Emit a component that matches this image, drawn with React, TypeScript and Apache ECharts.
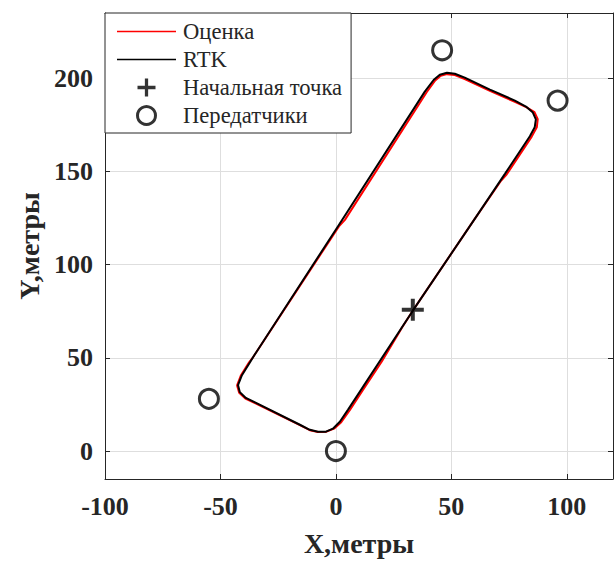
import React, { useEffect, useRef } from "react";
import * as echarts from "echarts";

const xTicks = [-100, -50, 0, 50, 100];
const yTicks = [0, 50, 100, 150, 200];

const rtkX = [33.3, 60.2, 73.2, 84.0, 86.1, 86.6, 85.3, 82.3, 77.5, 66.7, 55.8, 51.5, 48.1, 45.0, 42.4, 38.5, 1.7, -35.9, -37.2, -40.7, -42.4, -41.6, -39.0, -34.6, -15.6, -11.3, -7.8, -4.3, -1.3, 1.7, 5.2, 33.3];
const rtkY = [75.3, 124.7, 148.7, 168.9, 173.7, 177.9, 181.6, 184.8, 188.0, 193.9, 200.3, 202.4, 202.9, 201.9, 199.2, 192.8, 122.1, 50.3, 47.6, 40.7, 35.4, 31.6, 28.5, 25.8, 14.1, 11.4, 10.4, 10.4, 12.0, 15.7, 22.1, 75.3];

const estX = [33.3, 60.2, 71.5, 74.0, 84.8, 87.0, 87.4, 86.0, 82.6, 77.5, 66.7, 55.8, 51.5, 48.1, 45.4, 43.0, 39.3, 3.9, 1.3, -35.9, -37.6, -41.1, -42.8, -41.9, -39.2, -34.6, -15.6, -11.3, -7.8, -4.1, -0.8, 2.3, 6.0, 11.5, 19.8, 27.5, 28.5, 33.3];
const estY = [75.3, 124.7, 145.0, 148.5, 168.7, 173.7, 178.0, 181.8, 184.4, 187.3, 193.2, 199.6, 201.7, 202.2, 201.3, 198.8, 192.5, 124.0, 120.5, 50.3, 47.6, 40.7, 35.2, 31.3, 28.2, 25.5, 13.9, 11.2, 10.2, 10.4, 12.0, 15.5, 21.9, 32.4, 47.9, 63.9, 66.0, 75.3];

const startPoint = [33.3, 75.8];
const transmittersX = [-55, 0, 46, 96];
const transmittersY = [28, 0, 215, 188];

const seriesNames = ["Оценка", "RTK", "Начальная точка", "Передатчики"];

const plusPath = "path://M9,0h4v9h9v4h-9v9h-4v-9h-9v-4h9z";
const linePath = "path://M0,0H59V1.6H0Z";
const axisColor = "#262626";
const font = "'Liberation Serif', 'Times New Roman', serif";

export default function App() {
  const ref = useRef<HTMLDivElement>(null);
  useEffect(() => {
    if (!ref.current) return;
    const chart = echarts.init(ref.current, undefined, { renderer: "svg" });
    const xBase = {
      type: "value",
      min: -100,
      max: 120,
      interval: 50,
    };
    const yBase = {
      type: "value",
      min: -15,
      max: 235,
    };
    chart.setOption({
      animation: false,
      backgroundColor: "#ffffff",
      grid: { left: 105, top: 13, right: 1, bottom: 79, containLabel: false },
      legend: {
        left: 105,
        top: 13,
        orient: "vertical",
        padding: [7, 9, 6, 12],
        itemWidth: 59,
        itemHeight: 18,
        itemGap: 5,
        backgroundColor: "#ffffff",
        borderColor: axisColor,
        borderWidth: 1,
        borderRadius: 0,
        symbolKeepAspect: true,
        textStyle: { fontFamily: font, fontSize: 22.6, color: axisColor, padding: [0, 0, 0, 2] },
        data: [
          { name: seriesNames[0], icon: linePath, itemStyle: { color: "#ff0000" } },
          { name: seriesNames[1], icon: linePath, itemStyle: { color: "#000000" } },
          { name: seriesNames[2], icon: plusPath, itemStyle: { color: "#000" } },
          {
            name: seriesNames[3],
            icon: "circle",
            itemStyle: { color: "transparent", borderColor: "#000", borderWidth: 3 },
          },
        ],
      },
      xAxis: [
        {
          ...xBase,
          position: "bottom",
          name: "X,метры",
          nameLocation: "middle",
          nameGap: 50,
          nameTextStyle: { fontFamily: font, fontSize: 28, fontWeight: "bold", color: axisColor },
          axisLine: { show: true, onZero: false, lineStyle: { color: axisColor, width: 1 } },
          axisTick: { show: true, inside: true, length: 5, lineStyle: { color: axisColor } },
          axisLabel: {
            fontFamily: font,
            fontSize: 26,
            fontWeight: "bold",
            color: axisColor,
            margin: 14,
            showMaxLabel: false,
            formatter: (v: number) => (xTicks.includes(v) ? String(v) : ""),
          },
          splitLine: { show: true, lineStyle: { color: "#dedede", width: 1 } },
        },
        {
          ...xBase,
          position: "top",
          axisLine: { show: true, onZero: false, lineStyle: { color: axisColor, width: 1 } },
          axisTick: { show: true, inside: true, length: 5, lineStyle: { color: axisColor } },
          axisLabel: { show: false },
          splitLine: { show: false },
        },
      ],
      yAxis: [
        {
          ...yBase,
          position: "left",
          name: "Y,метры",
          nameLocation: "middle",
          nameGap: 61,
          nameTextStyle: { fontFamily: font, fontSize: 28, fontWeight: "bold", color: axisColor },
          axisLine: { show: true, onZero: false, lineStyle: { color: axisColor, width: 1 } },
          axisTick: { show: true, inside: true, length: 5, customValues: yTicks, lineStyle: { color: axisColor } },
          axisLabel: {
            fontFamily: font,
            fontSize: 26,
            fontWeight: "bold",
            color: axisColor,
            margin: 12,
            customValues: yTicks,
          },
          splitLine: { show: true, lineStyle: { color: "#dedede", width: 1 } },
        },
        {
          ...yBase,
          position: "right",
          axisLine: { show: true, onZero: false, lineStyle: { color: axisColor, width: 1 } },
          axisTick: { show: true, inside: true, length: 5, customValues: yTicks, lineStyle: { color: axisColor } },
          axisLabel: { show: false },
          splitLine: { show: false },
        },
      ],
      series: [
        {
          name: seriesNames[0],
          type: "line",
          xAxisIndex: 0,
          yAxisIndex: 0,
          symbol: "none",
          smooth: false,
          lineStyle: { color: "#ff0000", width: 2 },
          itemStyle: { color: "#ff0000" },
          data: estX.map((x, i) => [x, estY[i]]),
          z: 2,
        },
        {
          name: seriesNames[1],
          type: "line",
          xAxisIndex: 0,
          yAxisIndex: 0,
          symbol: "none",
          smooth: false,
          lineStyle: { color: "#000000", width: 2 },
          itemStyle: { color: "#000000" },
          data: rtkX.map((x, i) => [x, rtkY[i]]),
          z: 3,
        },
        {
          name: seriesNames[2],
          type: "scatter",
          xAxisIndex: 0,
          yAxisIndex: 0,
          symbol: plusPath,
          symbolSize: 22,
          itemStyle: { color: "#000000" },
          data: [startPoint],
          z: 4,
        },
        {
          name: seriesNames[3],
          type: "scatter",
          xAxisIndex: 0,
          yAxisIndex: 0,
          symbol: "circle",
          symbolSize: 19,
          itemStyle: { color: "transparent", borderColor: "#000000", borderWidth: 3 },
          data: transmittersX.map((x, i) => [x, transmittersY[i]]),
          z: 4,
        },
      ],
    });
    return () => chart.dispose();
  }, []);
  return (
    <div
      ref={ref}
      style={{ position: "fixed", left: 0, top: 0, width: 614, height: 562, background: "#fff" }}
    />
  );
}
